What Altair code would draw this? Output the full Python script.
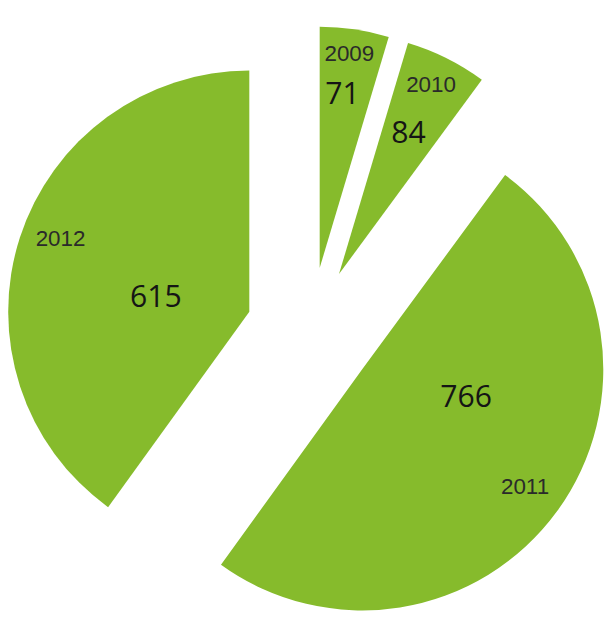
import altair as alt
import pandas as pd

# data
years = ["2009", "2010", "2011", "2012"]
values = [71, 84, 766, 615]

# layout (label placement relative to each slice's apex, degrees / px)
year_label_angle = [7.9, 26.0, 126.0, 291.0]
year_label_radius = [222, 216, 207, 208]
value_label_angle = [7.5, 26.4, 105.7, 278.1]
value_label_radius = [179, 161, 111, 97]

W, H = 604, 610
CX, CY = 310, 324
EXPLODE = 66
R = 248
GREEN = "#86bb2c"

df = pd.DataFrame({
    "year": years,
    "value": values,
    "order": list(range(len(years))),
    "ya": year_label_angle,
    "yr": year_label_radius,
    "va": value_label_angle,
    "vr": value_label_radius,
})

base = alt.Chart(df).transform_window(
    cum="sum(value)", sort=[alt.SortField("order")], frame=[None, 0]
).transform_joinaggregate(
    total="sum(value)"
).transform_calculate(
    t0="(datum.cum - datum.value) / datum.total * 2 * PI",
    t1="datum.cum / datum.total * 2 * PI",
).transform_calculate(
    mid="(datum.t0 + datum.t1) / 2",
).transform_calculate(
    cx=f"{CX} + {EXPLODE} * sin(datum.mid)",
    cy=f"{CY} - {EXPLODE} * cos(datum.mid)",
).transform_calculate(
    yx="datum.cx + datum.yr * sin(datum.ya * PI / 180)",
    yy="datum.cy - datum.yr * cos(datum.ya * PI / 180)",
    vx="datum.cx + datum.vr * sin(datum.va * PI / 180)",
    vy="datum.cy - datum.vr * cos(datum.va * PI / 180)",
)

arcs = base.mark_arc(radius=R, color=GREEN).encode(
    theta=alt.Theta("t0:Q", scale=None, stack=None),
    theta2="t1:Q",
    x=alt.X("cx:Q", scale=None),
    y=alt.Y("cy:Q", scale=None),
)

year_text = base.mark_text(
    font="Liberation Sans", fontSize=23, color="#2a2a2a",
    align="center", baseline="middle"
).encode(
    x=alt.X("yx:Q", scale=None),
    y=alt.Y("yy:Q", scale=None),
    text="year:N",
)

value_text = base.mark_text(
    font="Open Sans", fontSize=31, color="#151515",
    align="center", baseline="middle"
).encode(
    x=alt.X("vx:Q", scale=None),
    y=alt.Y("vy:Q", scale=None),
    text="value:Q",
)

chart = alt.layer(arcs, year_text, value_text).properties(
    width=W, height=H, padding=0, background="white"
).configure_view(strokeWidth=0, stroke="transparent")

chart.save("out.html", embed_options={"renderer": "svg", "actions": False})
